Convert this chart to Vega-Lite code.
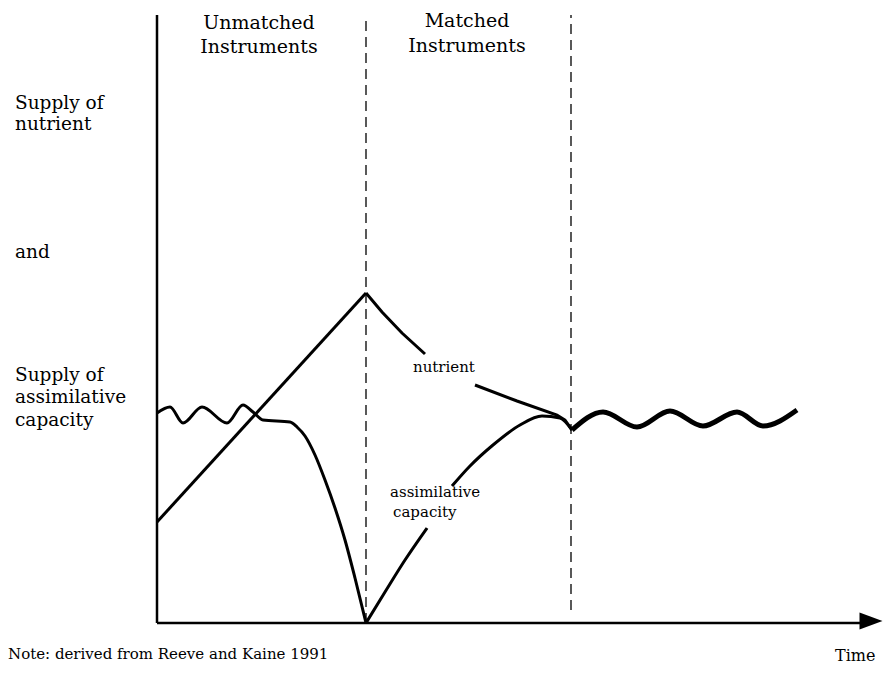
{
  "$schema": "https://vega.github.io/schema/vega-lite/v6.json",
  "width": 889,
  "height": 674,
  "autosize": {"type": "fit", "contains": "padding"},
  "padding": 0,
  "background": "white",
  "config": {"view": {"stroke": null}},
  "datasets": {
    "axes": [
      {"t": 0, "s": 0, "t2": 0, "s2": 608},
      {"t": 0, "s": 0, "t2": 705, "s2": 0}
    ],
    "dividers": [
      {"t": 209, "s": 0, "t2": 209, "s2": 608},
      {"t": 414, "s": 13, "t2": 414, "s2": 608}
    ],
    "arrow": [{"t": 714, "s": 2}],
    "nutrient": [
      {"part": "rise", "t": 0, "s": 101},
      {"part": "rise", "t": 209, "s": 330},
      {"part": "fall1", "t": 209, "s": 330},
      {"part": "fall1", "t": 225, "s": 311},
      {"part": "fall1", "t": 245, "s": 290},
      {"part": "fall1", "t": 268, "s": 269},
      {"part": "fall2", "t": 318, "s": 238},
      {"part": "fall2", "t": 360, "s": 222},
      {"part": "fall2", "t": 400, "s": 208},
      {"part": "fall2", "t": 408, "s": 203},
      {"part": "fall2", "t": 415, "s": 193}
    ],
    "assim": [
      {"part": "a1", "t": 0, "s": 210},
      {"part": "a1", "t": 13, "s": 216},
      {"part": "a1", "t": 26, "s": 200},
      {"part": "a1", "t": 45, "s": 216},
      {"part": "a1", "t": 70, "s": 200},
      {"part": "a1", "t": 86, "s": 218},
      {"part": "a1", "t": 96, "s": 211},
      {"part": "a1", "t": 106, "s": 203},
      {"part": "a1", "t": 133, "s": 201},
      {"part": "a1", "t": 140, "s": 196},
      {"part": "a1", "t": 148, "s": 187},
      {"part": "a1", "t": 158, "s": 168},
      {"part": "a1", "t": 168, "s": 143},
      {"part": "a1", "t": 178, "s": 115},
      {"part": "a1", "t": 188, "s": 83},
      {"part": "a1", "t": 198, "s": 45},
      {"part": "a1", "t": 209, "s": 0},
      {"part": "a2", "t": 209, "s": 0},
      {"part": "a2", "t": 228, "s": 31},
      {"part": "a2", "t": 248, "s": 63},
      {"part": "a2", "t": 270, "s": 95},
      {"part": "a3", "t": 295, "s": 137},
      {"part": "a3", "t": 313, "s": 157},
      {"part": "a3", "t": 336, "s": 178},
      {"part": "a3", "t": 363, "s": 198},
      {"part": "a3", "t": 385, "s": 207},
      {"part": "a3", "t": 403, "s": 205},
      {"part": "a3", "t": 415, "s": 193}
    ],
    "wave": [
      {"t": 415, "s": 193},
      {"t": 446, "s": 211},
      {"t": 480, "s": 196},
      {"t": 513, "s": 212},
      {"t": 546, "s": 197},
      {"t": 580, "s": 211},
      {"t": 606, "s": 197},
      {"t": 640, "s": 213}
    ],
    "sideLabels": [
      {"t": -142, "s": 514, "label": "Supply of"},
      {"t": -142, "s": 493, "label": "nutrient"},
      {"t": -142, "s": 365, "label": "and"},
      {"t": -142, "s": 242, "label": "Supply of"},
      {"t": -142, "s": 220, "label": "assimilative"},
      {"t": -142, "s": 197, "label": "capacity"}
    ],
    "headers": [
      {"t": 102, "s": 594, "label": "Unmatched"},
      {"t": 102, "s": 570, "label": "Instruments"},
      {"t": 310, "s": 596, "label": "Matched"},
      {"t": 310, "s": 571, "label": "Instruments"}
    ],
    "curveLabels": [
      {"t": 256, "s": 251, "label": "nutrient"},
      {"t": 233, "s": 126, "label": "assimilative"},
      {"t": 236, "s": 106, "label": "capacity"}
    ],
    "note": [
      {"t": -149, "s": -36, "label": "Note:  derived from Reeve and Kaine 1991"}
    ],
    "timeLabel": [
      {"t": 678, "s": -38, "label": "Time"}
    ]
  },
  "encoding": {
    "x": {"field": "t", "type": "quantitative", "scale": {"domain": [-157, 732], "nice": false, "zero": false}, "axis": null},
    "y": {"field": "s", "type": "quantitative", "scale": {"domain": [-51, 623], "nice": false, "zero": false}, "axis": null}
  },
  "layer": [
    {
      "data": {"name": "dividers"},
      "mark": {"type": "rule", "color": "#000", "strokeWidth": 1.3, "strokeDash": [10, 6]},
      "encoding": {"x2": {"field": "t2"}, "y2": {"field": "s2"}}
    },
    {
      "data": {"name": "axes"},
      "mark": {"type": "rule", "color": "#000", "strokeWidth": 2.5},
      "encoding": {"x2": {"field": "t2"}, "y2": {"field": "s2"}}
    },
    {
      "data": {"name": "arrow"},
      "mark": {"type": "point", "filled": true, "color": "#000", "opacity": 1, "size": 529, "shape": "M -1 -0.74 L 1 0 L -1 0.74 Z"}
    },
    {
      "data": {"name": "nutrient"},
      "mark": {"type": "line", "color": "#000", "strokeWidth": 3, "interpolate": "linear", "strokeJoin": "miter"},
      "encoding": {"detail": {"field": "part"}}
    },
    {
      "data": {"name": "assim"},
      "mark": {"type": "line", "color": "#000", "strokeWidth": 3, "interpolate": "monotone"},
      "encoding": {"detail": {"field": "part"}}
    },
    {
      "data": {"name": "wave"},
      "mark": {"type": "line", "color": "#000", "strokeWidth": 5, "interpolate": "monotone"}
    },
    {
      "data": {"name": "sideLabels"},
      "mark": {"type": "text", "align": "left", "baseline": "alphabetic", "font": "DejaVu Serif", "fontSize": 18.5, "color": "#000"},
      "encoding": {"text": {"field": "label"}}
    },
    {
      "data": {"name": "headers"},
      "mark": {"type": "text", "align": "center", "baseline": "alphabetic", "font": "DejaVu Serif", "fontSize": 19, "color": "#000"},
      "encoding": {"text": {"field": "label"}}
    },
    {
      "data": {"name": "curveLabels"},
      "mark": {"type": "text", "align": "left", "baseline": "alphabetic", "font": "DejaVu Serif", "fontSize": 15, "color": "#000"},
      "encoding": {"text": {"field": "label"}}
    },
    {
      "data": {"name": "note"},
      "mark": {"type": "text", "align": "left", "baseline": "alphabetic", "font": "DejaVu Serif", "fontSize": 15, "color": "#000"},
      "encoding": {"text": {"field": "label"}}
    },
    {
      "data": {"name": "timeLabel"},
      "mark": {"type": "text", "align": "left", "baseline": "alphabetic", "font": "DejaVu Serif", "fontSize": 16, "color": "#000"},
      "encoding": {"text": {"field": "label"}}
    }
  ]
}
